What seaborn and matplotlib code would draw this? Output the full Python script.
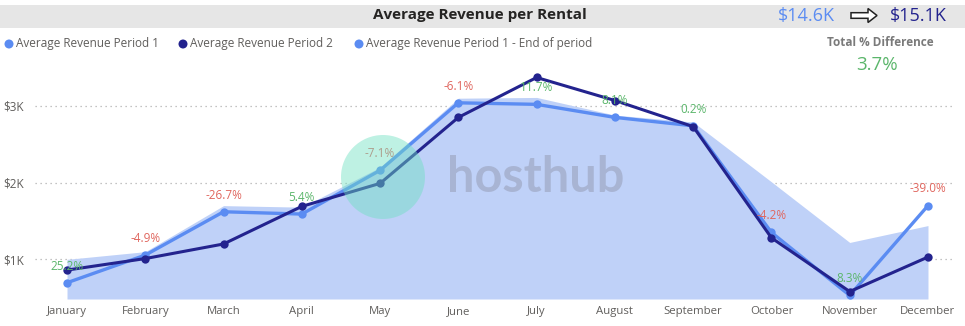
import matplotlib
matplotlib.use("Agg")
import matplotlib.pyplot as plt
import seaborn as sns
import pandas as pd
from matplotlib.patches import Ellipse, Rectangle, Polygon

months = ["January", "February", "March", "April", "May", "June", "July",
          "August", "September", "October", "November", "December"]
period1 = [695, 1055, 1620, 1590, 2160, 3040, 3020, 2850, 2740, 1350, 530, 1700]
period2 = [860, 1010, 1200, 1690, 1990, 2850, 3370, 3070, 2730, 1280, 580, 1030]
end_period = [1000, 1100, 1700, 1680, 2200, 3100, 3110, 2880, 2790, 2010, 1220, 1440]
pct_labels = ["25.2%", "-4.9%", "-26.7%", "5.4%", "-7.1%", "-6.1%", "11.7%",
              "8.1%", "0.2%", "-4.2%", "8.3%", "-39.0%"]
ytick_vals = [1000, 2000, 3000]
ytick_labels = ["$1K", "$2K", "$3K"]
total1 = "$14.6K"
total2 = "$15.1K"
total_diff = "3.7%"

C_LIGHT = "#5B8CF2"
C_DARK = "#23238E"
C_AREA = "#BFD1F8"
C_GREEN = "#5BB66B"
C_RED = "#E0665E"
C_GRAY = "#605E5C"

sns.set_theme(style="white")
plt.rcParams["font.family"] = ["Open Sans", "DejaVu Sans"]

W, H = 965, 326
fig = plt.figure(figsize=(W / 100, H / 100), dpi=100)

def fx(px):
    return px / W

def fy(py):
    return 1 - py / H

ax = fig.add_axes([fx(35), fy(299), fx(955) - fx(35), fy(60) - fy(299)])

df = pd.DataFrame({"idx": range(12), "month": months, "p1": period1,
                   "p2": period2, "end": end_period})

ymin, ymax = 483, 3598
ax.fill_between(df["idx"], ymin, df["end"], color=C_AREA, lw=0, zorder=1)
sns.lineplot(data=df, x="idx", y="p1", ax=ax, color=C_LIGHT, lw=2.4,
             marker="o", markersize=6, markeredgewidth=0, zorder=3)
sns.lineplot(data=df, x="idx", y="p2", ax=ax, color=C_DARK, lw=2.2,
             marker="o", markersize=6, markeredgewidth=0, zorder=4)

for i, (v, lab) in enumerate(zip(period1, pct_labels)):
    col = C_RED if lab.startswith("-") else C_GREEN
    ax.annotate(lab, (i, v), xytext=(0, 12), textcoords="offset points",
                ha="center", va="center", fontsize=8.5, color=col, zorder=5)

ax.set_xlim(-0.409, 11.345)
ax.set_ylim(ymin, ymax)
ax.set_xticks(range(12))
ax.set_xticklabels(months, fontsize=8.2, color=C_GRAY)
ax.set_yticks(ytick_vals)
ax.set_yticklabels(ytick_labels, fontsize=8.5, color=C_GRAY)
ax.tick_params(axis="both", length=0)
ax.tick_params(axis="y", pad=8)
ax.tick_params(axis="x", pad=5)
ax.set_xlabel("")
ax.set_ylabel("")
for s in ax.spines.values():
    s.set_visible(False)
ax.yaxis.grid(True, linestyle=(0, (1, 3)), color="#B0B0B0", lw=0.9)
ax.xaxis.grid(False)
ax.set_axisbelow(True)
ax.set_facecolor("none")

# watermark
fig.patches.append(Ellipse((fx(383), fy(177)), 84 / W, 84 / H,
                           transform=fig.transFigure, color="#6FE0C2",
                           alpha=0.45, lw=0, zorder=10))
fig.text(fx(536), fy(177), "hosthub", fontsize=35, fontweight="bold",
         color="#7A7A8A", alpha=0.33, ha="center", va="center",
         family=["Lato", "DejaVu Sans"], zorder=10)

# title bar
fig.patches.append(Rectangle((0, fy(28)), 1, fy(5) - fy(28),
                             transform=fig.transFigure, color="#E6E6E6",
                             lw=0, zorder=0))
fig.text(fx(480), fy(15.5), "Average Revenue per Rental", fontsize=11,
         fontweight="bold", color="#252423", ha="center", va="center")
fig.text(fx(806), fy(15.5), total1, fontsize=13, color=C_LIGHT,
         ha="center", va="center")
arrow_pts = [(851, 12.7), (868, 12.7), (868, 8.5), (877, 15.5), (868, 22.5),
             (868, 18.3), (851, 18.3)]
fig.patches.append(Polygon([(fx(x), fy(y)) for x, y in arrow_pts], closed=True,
                           transform=fig.transFigure, facecolor="white",
                           edgecolor="#222222", lw=1.1, zorder=2))
fig.text(fx(918), fy(15.5), total2, fontsize=13, color=C_DARK,
         ha="center", va="center")

fig.text(fx(880), fy(43), "Total % Difference", fontsize=8.5,
         fontweight="bold", color="#7A7A7A", ha="center", va="center")
fig.text(fx(877), fy(65), total_diff, fontsize=13.5, color=C_GREEN,
         ha="center", va="center")

# legend
legend_items = [("Average Revenue Period 1", C_LIGHT),
                ("Average Revenue Period 2", C_DARK),
                ("Average Revenue Period 1 - End of period", C_LIGHT)]
leg_x = [9, 183, 359]
for (lab, col), x0 in zip(legend_items, leg_x):
    fig.patches.append(Ellipse((fx(x0), fy(44)), 9 / W, 9 / H,
                               transform=fig.transFigure, color=col, lw=0))
    fig.text(fx(x0 + 7), fy(44), lab, fontsize=8.5, color=C_GRAY,
             ha="left", va="center")

fig.savefig("out.png", dpi=100)
